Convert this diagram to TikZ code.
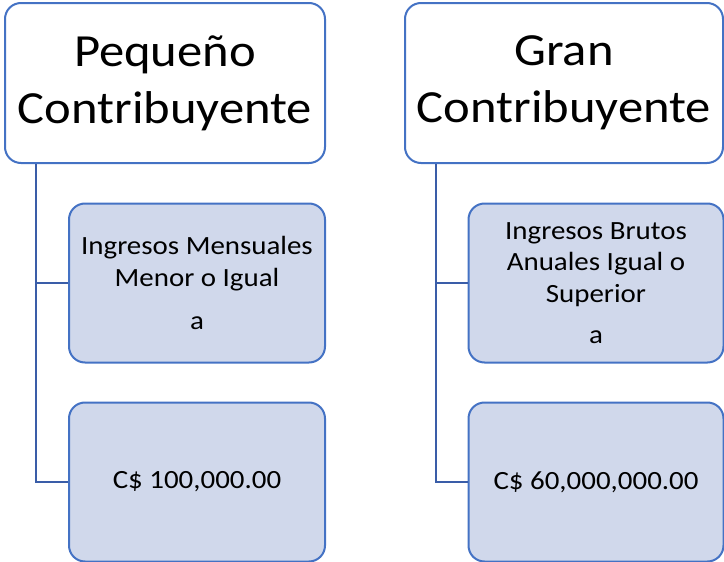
\documentclass[tikz,border=0pt]{standalone}
\usepackage{fontspec}
\setmainfont{Carlito}[FakeStretch=1.1]
\usepackage{tikz}
\usetikzlibrary{positioning}
\definecolor{boxblue}{HTML}{4472C4}
\definecolor{linkblue}{HTML}{3A5DA8}
\definecolor{childfill}{HTML}{D0D8EB}

\begin{document}
\begin{tikzpicture}[x=1pt,y=-1pt,
    header/.style={draw=boxblue, line width=2pt, fill=white, rounded corners=16pt,
        align=center, inner sep=0pt, minimum height=160pt,
        font=\fontsize{46}{57}\selectfont},
    child/.style={draw=boxblue, line width=2pt, fill=childfill, rounded corners=16pt,
        align=center, inner sep=0pt, minimum width=256pt, minimum height=159pt,
        font=\fontsize{26.3}{31.5}\selectfont},
    link/.style={draw=linkblue, line width=2pt}]
    \useasboundingbox (0,0) rectangle (724,562);

    % Headers
    \node[header, minimum width=320pt] (hdrP) at (165,83) {Pequeño\\Contribuyente};
    \node[header, minimum width=318pt] (hdrG) at (564,83) {Gran\\Contribuyente};

    % Connectors
    \coordinate (rootP) at ([xshift=32pt]hdrP.south west);
    \coordinate (rootG) at ([xshift=32pt]hdrG.south west);

    % Children
    \node[child] (limP) at (197,283) {Ingresos Mensuales\\Menor o Igual\\[12pt]a};
    \node[child] (amtP) at (197,482) {C\$ 100,000.00};
    \node[child, minimum width=255pt] (limG) at (596,283) {Ingresos Brutos\\Anuales Igual o\\Superior\\[10pt]a};
    \node[child, minimum width=255pt] (amtG) at (596,482) {C\$ 60,000,000.00};

    \draw[link] (rootP) |- (limP.west);
    \draw[link] (rootP) |- (amtP.west);
    \draw[link] (rootG) |- (limG.west);
    \draw[link] (rootG) |- (amtG.west);
\end{tikzpicture}
\end{document}
